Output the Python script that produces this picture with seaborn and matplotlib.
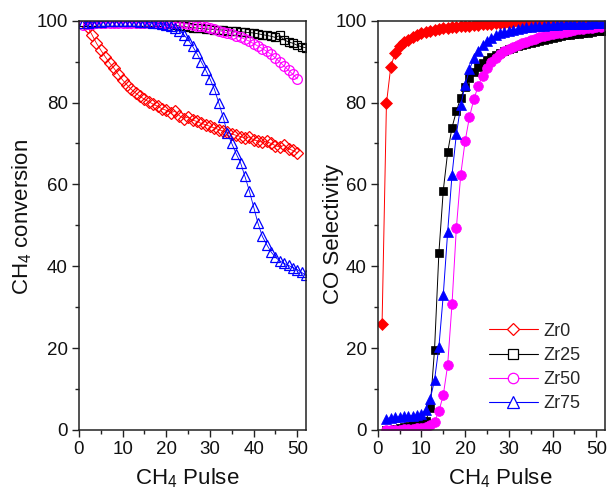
import numpy as np
import pandas as pd
import matplotlib
matplotlib.use("Agg")
import matplotlib.pyplot as plt
from matplotlib.lines import Line2D
from matplotlib.ticker import MultipleLocator
import seaborn as sns

# ---------------- data ----------------
series_names = ["Zr0", "Zr25", "Zr50", "Zr75"]

# CH4 conversion (left panel)
conv_pulse_zr0 = np.arange(2, 51)
conv_zr0 = [98.5, 96.5, 94.5, 92.8, 91.2, 89.7, 88.4, 86.9, 85.5, 84.3,
            83.2, 82.3, 81.5, 80.8, 80.2, 79.6, 79.1, 78.5, 78.1, 77.5,
            77.9, 76.8, 76.1, 76.5, 75.7, 75.4, 74.9, 74.6, 74.2, 73.8,
            73.4, 73.0, 72.7, 72.3, 72.0, 71.7, 71.3, 71.6, 70.9, 70.6,
            70.3, 70.5, 70.0, 69.5, 69.1, 69.6, 68.7, 68.3, 67.7]

conv_pulse_zr25 = np.arange(1, 53)
conv_zr25 = [99.6, 99.6, 99.6, 99.6, 99.6, 99.6, 99.6, 99.6, 99.6, 99.6,
             99.6, 99.6, 99.6, 99.6, 99.6, 99.6, 99.6, 99.6, 99.5, 99.3,
             99.1, 98.9, 98.7, 98.6, 98.4, 98.3, 98.2, 98.1, 98.0, 97.9,
             97.8, 97.8, 97.7, 97.6, 97.5, 97.4, 97.3, 97.2, 97.1, 97.0,
             96.8, 96.6, 96.4, 96.2, 95.9, 96.4, 95.3, 94.8, 94.5, 94.0,
             93.6, 93.4]

conv_pulse_zr50 = np.arange(1, 51)
conv_zr50 = [99.0, 99.2, 99.3, 99.4, 99.5, 99.5, 99.5, 99.5, 99.5, 99.5,
             99.5, 99.5, 99.5, 99.5, 99.5, 99.5, 99.5, 99.5, 99.5, 99.5,
             99.5, 99.5, 99.5, 99.4, 99.2, 98.9, 98.8, 98.6, 98.4, 98.2,
             97.9, 97.6, 97.3, 97.0, 96.7, 96.3, 95.9, 95.5, 95.0, 94.4,
             93.8, 93.2, 92.5, 91.8, 90.9, 89.9, 88.9, 87.9, 86.9, 85.8]

conv_pulse_zr75 = np.arange(1, 53)
conv_zr75 = [99.5, 99.5, 99.6, 99.7, 99.8, 99.9, 100.0, 100.0, 100.0, 100.0,
             100.0, 99.9, 99.9, 99.8, 99.7, 99.6, 99.5, 99.4, 99.3, 99.0,
             98.7, 98.2, 97.6, 96.6, 95.3, 93.8, 92.0, 90.0, 88.0, 85.8,
             83.3, 80.0, 76.5, 72.5, 70.0, 67.5, 65.3, 62.0, 58.5, 54.5,
             50.5, 47.3, 45.3, 43.5, 42.2, 41.3, 40.7, 40.2, 39.7, 39.2,
             38.5, 37.8]

# CO selectivity (right panel)
sel_pulse_zr0 = np.arange(1, 53)
sel_zr0 = [26.0, 79.8, 88.8, 92.2, 93.7, 94.7, 95.4, 96.0, 96.5, 96.9,
           97.2, 97.5, 97.7, 97.9, 98.1, 98.3, 98.4, 98.5, 98.6, 98.7,
           98.8, 98.9, 99.0, 99.1, 99.2, 99.3, 99.4, 99.4, 99.5, 99.5,
           99.6, 99.6, 99.6, 99.6, 99.6, 99.6, 99.6, 99.6, 99.6, 99.6,
           99.7, 99.7, 99.7, 99.7, 99.7, 99.7, 99.7, 99.7, 99.7, 99.7,
           99.7, 99.7]

sel_pulse_zr25 = np.arange(2, 53)
sel_zr25 = [0.0, 0.1, 0.3, 0.5, 0.7, 0.9, 1.1, 1.4, 1.7, 2.2,
            5.3, 19.6, 43.3, 58.5, 67.8, 73.9, 77.9, 81.2, 83.9, 85.9,
            87.4, 88.6, 89.6, 90.4, 91.1, 91.7, 92.2, 92.7, 93.0, 93.4,
            93.7, 94.0, 94.3, 94.6, 94.9, 95.1, 95.4, 95.6, 95.8, 96.0,
            96.2, 96.4, 96.5, 96.7, 96.8, 97.0, 97.1, 97.2, 97.4, 97.5,
            97.6]

sel_pulse_zr50 = np.arange(2, 52)
sel_zr50 = [0.0, 0.0, 0.1, 0.1, 0.2, 0.2, 0.3, 0.4, 0.5, 0.8,
            1.2, 2.0, 4.6, 8.5, 15.8, 30.8, 49.4, 62.4, 70.6, 76.5,
            80.8, 84.1, 86.5, 88.4, 89.8, 90.9, 91.8, 92.5, 93.1, 93.6,
            94.1, 94.5, 94.9, 95.3, 95.6, 95.9, 96.2, 96.5, 96.7, 96.9,
            97.1, 97.3, 97.5, 97.7, 97.9, 98.0, 98.1, 98.3, 98.4, 98.5]

sel_pulse_zr75 = np.arange(2, 53)
sel_zr75 = [2.8, 3.0, 3.1, 3.2, 3.3, 3.4, 3.5, 3.6, 3.8, 5.0,
            7.5, 12.2, 20.3, 33.0, 48.3, 62.3, 72.3, 79.3, 84.3, 88.1,
            90.8, 92.6, 94.0, 95.0, 95.8, 96.4, 96.9, 97.3, 97.5, 97.8,
            98.0, 98.2, 98.4, 98.5, 98.6, 98.7, 98.8, 98.9, 99.0, 99.0,
            99.1, 99.1, 99.2, 99.2, 99.3, 99.3, 99.3, 99.4, 99.4, 99.4,
            99.5]

# ---------------- style ----------------
sns.set_theme(style="ticks")
plt.rcParams["font.family"] = ["Liberation Sans", "DejaVu Sans"]
plt.rcParams["mathtext.fontset"] = "custom"
plt.rcParams["mathtext.rm"] = "Liberation Sans"
plt.rcParams["mathtext.it"] = "Liberation Sans"

colors = {"Zr0": "#FF0000", "Zr25": "#000000", "Zr50": "#FF00FF", "Zr75": "#0000FF"}
markers = {"Zr0": "D", "Zr25": "s", "Zr50": "o", "Zr75": "^"}
msizes = {"Zr0": 6.0, "Zr25": 6.0, "Zr50": 7.0, "Zr75": 7.5}

fig = plt.figure(figsize=(6.07, 4.96), dpi=100)
ax1 = fig.add_axes([79 / 607, 66 / 496, 227 / 607, 409.3 / 496])
ax2 = fig.add_axes([377.7 / 607, 66 / 496, 227.3 / 607, 409.3 / 496])

left = {"Zr0": (conv_pulse_zr0, conv_zr0), "Zr25": (conv_pulse_zr25, conv_zr25),
        "Zr50": (conv_pulse_zr50, conv_zr50), "Zr75": (conv_pulse_zr75, conv_zr75)}
right = {"Zr0": (sel_pulse_zr0, sel_zr0), "Zr25": (sel_pulse_zr25, sel_zr25),
         "Zr50": (sel_pulse_zr50, sel_zr50), "Zr75": (sel_pulse_zr75, sel_zr75)}

for name in series_names:
    x, y = left[name]
    sns.lineplot(x=x, y=y, ax=ax1, color=colors[name], lw=0.6,
                 marker=markers[name], markersize=msizes[name],
                 markerfacecolor="none", markeredgecolor=colors[name],
                 markeredgewidth=0.9, errorbar=None, legend=False)
for name in series_names:
    x, y = right[name]
    sns.lineplot(x=x, y=y, ax=ax2, color=colors[name], lw=0.7,
                 marker=markers[name], markersize=msizes[name],
                 markerfacecolor=colors[name], markeredgecolor=colors[name],
                 markeredgewidth=0.5, errorbar=None, legend=False)

for ax in (ax1, ax2):
    ax.set_xlim(0, 52)
    ax.set_ylim(0, 100)
    ax.xaxis.set_major_locator(MultipleLocator(10))
    ax.xaxis.set_minor_locator(MultipleLocator(5))
    ax.yaxis.set_major_locator(MultipleLocator(20))
    ax.yaxis.set_minor_locator(MultipleLocator(10))
    ax.tick_params(which="major", direction="out", length=5, width=1.0,
                   labelsize=13.5, pad=3, color="#222222", labelcolor="#111111")
    ax.tick_params(which="minor", direction="out", length=2.7, width=1.0,
                   color="#222222")
    for s in ax.spines.values():
        s.set_visible(True)
        s.set_linewidth(1.1)
        s.set_color("#222222")

lab_fs = 16
ax1.set_xlabel("CH$_4$ Pulse", fontsize=lab_fs, color="#111111")
ax1.set_ylabel("CH$_4$ conversion", fontsize=lab_fs, color="#111111")
ax2.set_xlabel("CH$_4$ Pulse", fontsize=lab_fs, color="#111111")
ax2.set_ylabel("CO Selectivity", fontsize=lab_fs, color="#111111")
ax1.xaxis.set_label_coords(0.475, -0.088)
ax2.xaxis.set_label_coords(0.54, -0.088)
ax1.yaxis.set_label_coords(-0.2, 0.52)
ax2.yaxis.set_label_coords(-0.148, 0.48)

handles = [Line2D([], [], color=colors[n], lw=0.8, marker=markers[n],
                  markersize=msizes[n] + 0.5, markerfacecolor="white",
                  markeredgecolor=colors[n], markeredgewidth=0.9)
           for n in series_names]
ax2.legend(handles, series_names, loc="upper left",
           bbox_to_anchor=(0.49, 0.262), frameon=False, fontsize=13,
           handlelength=2.7, handletextpad=0.3, labelspacing=0.4,
           borderpad=0, borderaxespad=0)

fig.savefig("out.png", dpi=100)
